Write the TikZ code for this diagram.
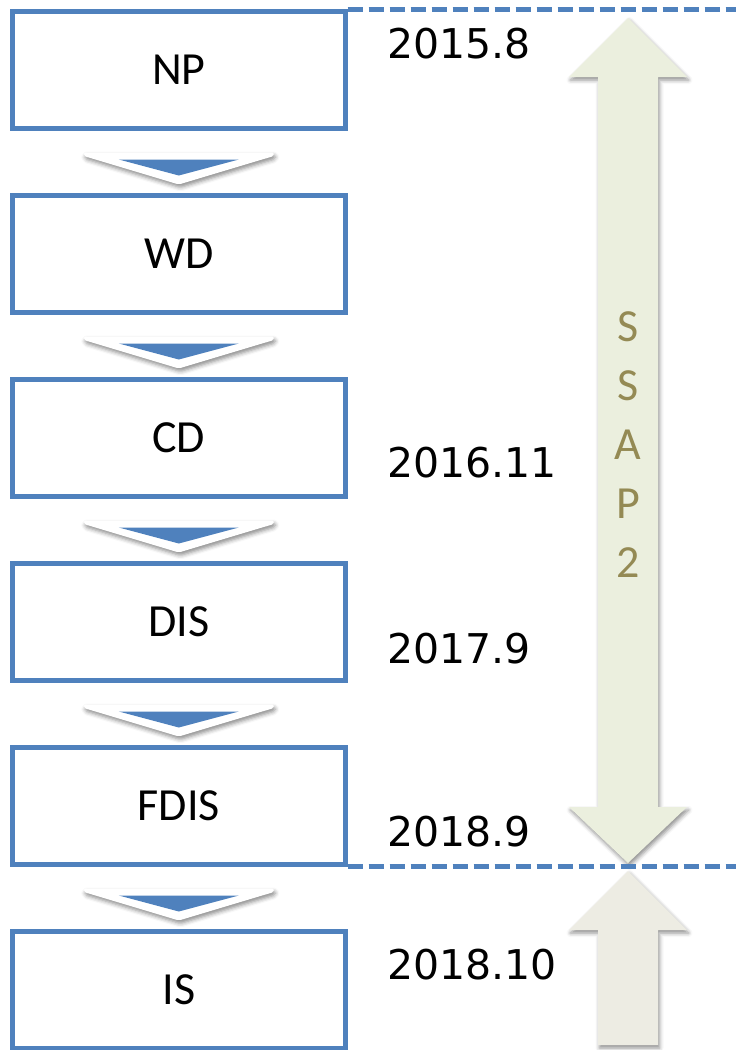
\documentclass[tikz,border=0pt]{standalone}
\usepackage{fontspec}
\setmainfont{Carlito}
\newfontfamily\datefont{DejaVu Sans}
\usetikzlibrary{shadows.blur,calc}

\definecolor{stageblue}{HTML}{4F81BD}
\definecolor{spanfill}{HTML}{EBEFDE}
\definecolor{nextfill}{HTML}{EDECE3}
\definecolor{spantext}{HTML}{948A54}

\begin{document}
\begin{tikzpicture}[x=1pt,y=-1pt,
  stagebox/.style={draw=stageblue, line width=4.5pt, fill=white,
    minimum width=333pt, minimum height=117pt, inner sep=0pt,
    font=\fontsize{46}{55}\selectfont},
  datelabel/.style={anchor=west, inner sep=0pt,
    font=\datefont\fontsize{41}{49}\selectfont},
  softshadow/.style={blur shadow={shadow xshift=1.5pt, shadow yshift=-3pt,
    shadow blur radius=4pt, shadow opacity=45}},
  milestone/.style={stageblue, line width=5pt, dash pattern=on 15pt off 6pt},
  milestoneshade/.style={black!60, opacity=.25, line width=5pt,
    dash pattern=on 15pt off 6pt, yshift=-3pt},
  pics/stepchevron/.style={code={
    \fill[white, rounded corners=2pt, softshadow]
      (-95,-9.5) -- (95,-9.5) -- (95,-6) -- (0,22.5) -- (-95,-6) -- cycle;
    \fill[stageblue] (-60,-2.5) -- (60,-2.5) -- (0,13.5) -- cycle;
  }}
]
\useasboundingbox (0,0) rectangle (736,1050);

% span arrow (double headed) and the following arrow
\fill[spanfill, softshadow]
  (628,18) -- (687,77) -- (658,77) -- (658,807) -- (687,807) -- (628,863)
  -- (569,807) -- (598,807) -- (598,77) -- (569,77) -- cycle;
\fill[nextfill, softshadow]
  (628,871) -- (687,930) -- (658,930) -- (658,1045) -- (598,1045)
  -- (598,930) -- (569,930) -- cycle;
\node[text=spantext, align=center, inner sep=0pt,
  font=\fontsize{46}{59}\selectfont] (ssap) at (628,445) {S\\S\\A\\P\\2};

% stages
\node[stagebox] (np)   at (178.8,70)  {NP};
\node[stagebox] (wd)   at (178.8,254) {WD};
\node[stagebox] (cd)   at (178.8,438) {CD};
\node[stagebox] (dis)  at (178.8,622) {DIS};
\node[stagebox] (fdis) at (178.8,806) {FDIS};
\node[stagebox] (is)   at (178.8,990) {IS};

% chevrons between stages
\foreach \a/\b in {np/wd, wd/cd, cd/dis, dis/fdis, fdis/is}
  \pic at ($(\a.south)!0.5!(\b.north)$) {stepchevron};

% milestone lines
\coordinate (rightedge) at (740,0);
\draw[milestoneshade] (np.north east) -- (np.north east -| rightedge);
\draw[milestone] (np.north east) -- (np.north east -| rightedge);
\draw[milestoneshade] (fdis.south east) -- (fdis.south east -| rightedge);
\draw[milestone] (fdis.south east) -- (fdis.south east -| rightedge);

% dates
\node[datelabel] (d1) at (387,44)  {2015.8};
\node[datelabel] (d2) at (387,463) {2016.11};
\node[datelabel] (d3) at (387,649) {2017.9};
\node[datelabel] (d4) at (387,832) {2018.9};
\node[datelabel] (d5) at (387,965) {2018.10};
\end{tikzpicture}
\end{document}
